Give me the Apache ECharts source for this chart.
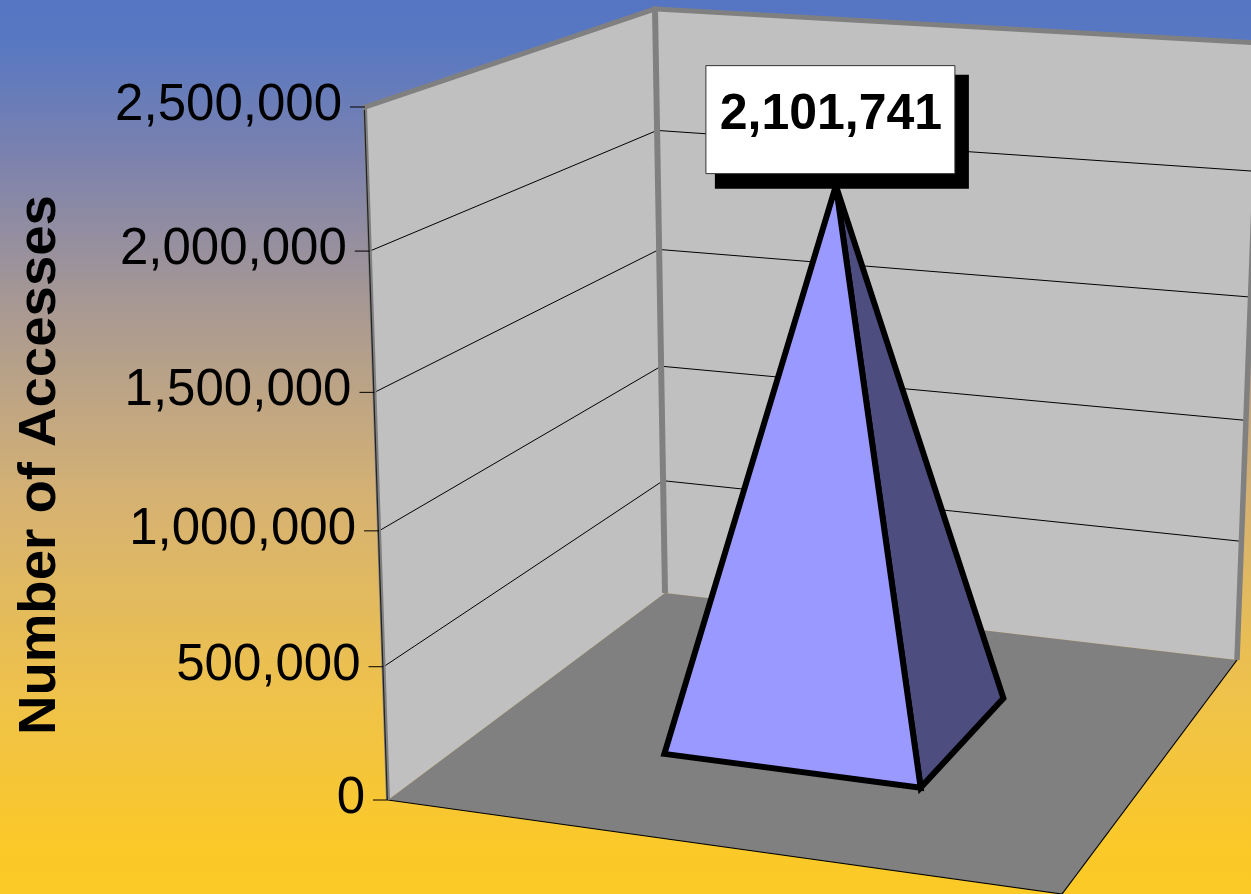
<!DOCTYPE html>
<html><head><meta charset="utf-8">
<style>html,body{margin:0;padding:0;background:#fff}#c{width:1251px;height:894px}</style>
<script src="https://cdn.jsdelivr.net/npm/echarts@6/dist/echarts.min.js"></script>
</head><body><div id="c"></div>
<script>
// ---- data ----
const categories = ['Accesses'];
const accesses = [2101741];
const axisTicks = [0, 500000, 1000000, 1500000, 2000000, 2500000];
const axisTitle = 'Number of Accesses';

// ---- 3D frame: corners of the floor and ceiling as seen on the page ----
const floorQuad = [[388,800],[1062,894],[1237,660],[665,593]];
const ceilQuad  = [[365,107],[1063,153],[1260,43],[655,9]];
const PERSP = 1.05;          // foreshortening of the vertical axis at the walls
const PERSP_BAR = 1.10;      // the same, at the middle of the floor
const BAND_U = [0.297, 0.698], BAND_W = [0.3, 0.7]; // the pyramid's footprint
const FONT = '"Liberation Sans", Arial, sans-serif';
const FS = 51;

function homography(q){
  const [p0,p1,p2,p3]=q;
  const dx1=p1[0]-p2[0],dx2=p3[0]-p2[0],sx=p0[0]-p1[0]+p2[0]-p3[0];
  const dy1=p1[1]-p2[1],dy2=p3[1]-p2[1],sy=p0[1]-p1[1]+p2[1]-p3[1];
  const den=dx1*dy2-dx2*dy1;
  const g=(sx*dy2-dx2*sy)/den,h=(dx1*sy-sx*dy1)/den;
  const a=p1[0]-p0[0]+g*p1[0],b=p3[0]-p0[0]+h*p3[0],c=p0[0];
  const d=p1[1]-p0[1]+g*p1[1],e=p3[1]-p0[1]+h*p3[1],f=p0[1];
  return (u,w)=>{const k=g*u+h*w+1;return [(a*u+b*w+c)/k,(d*u+e*w+f)/k];};
}
const floorH=homography(floorQuad), ceilH=homography(ceilQuad);

function renderItem(params, api){
  const y0=api.coord([0,0])[1], yMax=api.coord([0,axisTicks[axisTicks.length-1]])[1];
  const frac=(v,r)=>{const t=(y0-api.coord([0,v])[1])/(y0-yMax);return t/(t+(1-t)*r);};
  const P=(u,w,v,r)=>{const b=floorH(u,w),t=ceilH(u,w),f=frac(v,r||PERSP);return [b[0]+(t[0]-b[0])*f,b[1]+(t[1]-b[1])*f];};
  const top=axisTicks[axisTicks.length-1];
  const poly=(pts,fill,stroke,lw)=>({type:'polygon',shape:{points:pts},style:{fill,stroke:stroke||null,lineWidth:lw||0,lineJoin:'miter',miterLimit:20}});
  const line=(a,b,stroke,lw,cap)=>({type:'line',shape:{x1:a[0],y1:a[1],x2:b[0],y2:b[1]},style:{stroke,lineWidth:lw,lineCap:cap||'butt'}});
  const kids=[];
  // walls and floor
  kids.push(poly([P(0,0,0),P(0,1,0),P(0,1,top),P(0,0,top)],'#c0c0c0'));
  kids.push(poly([P(0,1,0),P(1,1,0),P(1,1,top),P(0,1,top)],'#c0c0c0'));
  kids.push(poly([P(0,0,0),P(1,0,0),P(1,1,0),P(0,1,0)],'#808080'));
  kids.push(line(P(0,0,0),P(1,0,0),'#000',1.2));
  kids.push(line(P(1,0,0),P(1,1,0),'#000',1.2));
  // grid lines
  axisTicks.slice(1,-1).forEach(t=>{
    kids.push(line(P(0,0,t),P(0,1,t),'#000',1));
    kids.push(line(P(0,1,t),P(1,1,t),'#000',1));
  });
  // wall edges
  kids.push(line(P(0,0,0),P(0,0,top),'#808080',4));
  kids.push(line([P(0,0,0)[0]-0.7,P(0,0,0)[1]],[P(0,0,top)[0]-0.7,P(0,0,top)[1]],'#222',1.2));
  kids.push(line(P(0,0,top),P(0,1,top),'#808080',5,'square'));
  kids.push(line(P(0,1,top),P(1,1,top),'#808080',5,'square'));
  kids.push(line(P(0,1,0),P(0,1,top),'#808080',6));
  kids.push(line(P(1,1,0),P(1,1,top),'#808080',5.5));
  // ticks and tick labels
  axisTicks.forEach(t=>{
    const e=P(0,0,t);
    kids.push(line([e[0]-15,e[1]],e,'#000',1));
    kids.push({type:'text',style:{text:t.toLocaleString('en-US'),x:e[0]-23,y:e[1]-1,textAlign:'right',textVerticalAlign:'middle',
      fill:'#000',fontFamily:FONT,fontSize:FS}});
  });
  // axis title
  kids.push({type:'text',x:41,y:465,rotation:Math.PI/2,scaleX:1.07,style:{text:axisTitle,x:0,y:0,textAlign:'center',textVerticalAlign:'middle',
      fill:'#000',fontFamily:FONT,fontSize:FS,fontWeight:'bold'}});
  // pyramid
  const v=api.value(1), [a,b]=BAND_U, [c,d]=BAND_W, apex=P((a+b)/2,(c+d)/2,v,PERSP_BAR);
  kids.push(poly([P(b,c,0),P(b,d,0),apex],'#4d4d80','#000',6));
  kids.push(poly([P(a,c,0),P(b,c,0),apex],'#9999ff','#000',6));
  // data label, anchored to the apex
  const lx=apex[0]-130, ly=apex[1]-120;
  kids.push({type:'rect',shape:{x:lx+9,y:ly+9,width:254,height:114},style:{fill:'#000'}});
  kids.push({type:'rect',shape:{x:lx,y:ly,width:249,height:108},style:{fill:'#fff',stroke:'#333',lineWidth:1}});
  kids.push({type:'text',style:{text:v.toLocaleString('en-US'),x:lx+125,y:ly+50,textAlign:'center',textVerticalAlign:'middle',
      fill:'#000',fontFamily:FONT,fontSize:FS-1,fontWeight:'bold'}});
  return {type:'group',children:kids};
}

const chart=echarts.init(document.getElementById('c'),null,{renderer:'canvas'});
chart.setOption({
  animation:false,
  backgroundColor:{type:'linear',x:0,y:0,x2:0,y2:1,colorStops:[
    {offset:0,color:'#5575c3'},{offset:0.05,color:'#5878c2'},{offset:0.18,color:'#7d82ad'},
    {offset:0.33,color:'#a59795'},{offset:0.56,color:'#d6b272'},{offset:0.78,color:'#efc24a'},
    {offset:0.95,color:'#fbc928'},{offset:1,color:'#fbca26'}]},
  grid:{left:0,top:106,width:1251,height:694,containLabel:false},
  xAxis:{type:'category',data:categories,show:false},
  yAxis:{type:'value',min:0,max:2500000,interval:500000,show:false},
  series:[{type:'custom',renderItem,clip:false,silent:true,
    data:categories.map((c,i)=>[c,accesses[i]]),encode:{x:0,y:1}}]
});
</script></body></html>
